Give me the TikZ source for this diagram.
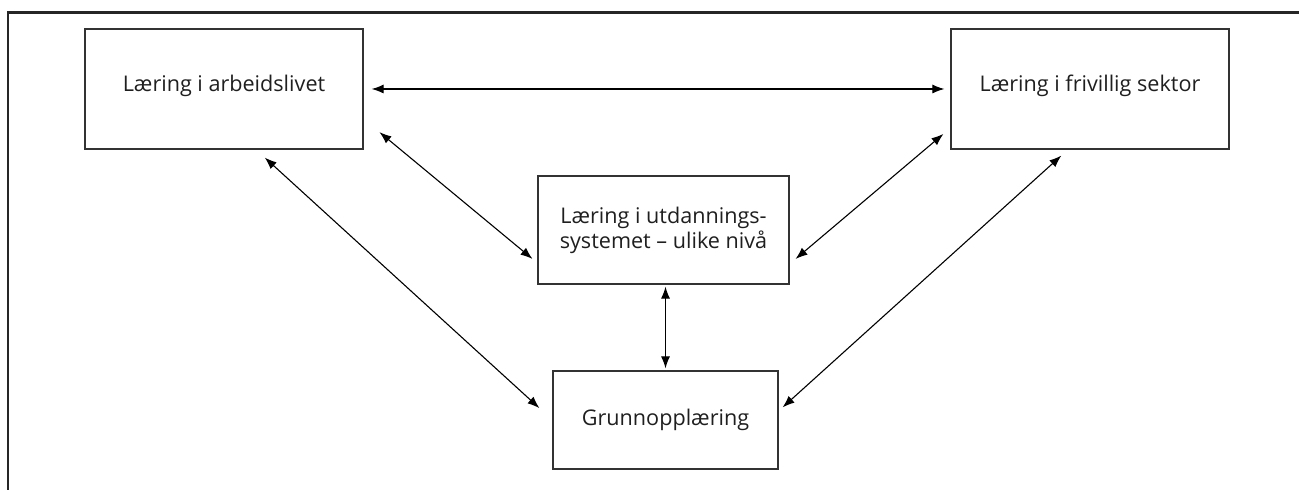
\documentclass[tikz,border=0pt]{standalone}
\usepackage{fontspec}
\setmainfont{Open Sans}
\usetikzlibrary{arrows.meta,positioning}
\tikzset{
	sector/.style = {draw = black!80, line width = 0.6pt, align = center, inner sep = 0mm,
		text = black!88, font = \fontsize{10.8}{10}\selectfont},
	top sector/.style = {sector, minimum width = 139pt, minimum height = 60pt, text depth = 6pt},
	both ways/.style = {{Latex[length=6pt,width=4.5pt]}-{Latex[length=6pt,width=4.5pt]}, line width = 0.55pt},
	frame/.style = {draw = black!85, line width = 1.25pt}
}

\begin{document}
\begin{tikzpicture}[x = 0.5pt, y = -0.5pt]
	\useasboundingbox (0, 0) rectangle (1299, 490);
	% outer frame, runs off the page
	\draw [frame] (8, 520) -- (8, 12.5) -- (1330, 12.5);

	% the four arenas
	\node [top sector] (arbeid) at (224, 89) {Læring i arbeidslivet};
	\node [top sector] (frivillig) at (1090, 89) {Læring i frivillig sektor};
	\node [sector, minimum width = 125.5pt, minimum height = 54pt] (utd) at (663.5, 230) {Læring i utdannings-\\systemet – ulike nivå};
	\node [sector, minimum width = 112.5pt, minimum height = 49pt] (grunn) at (665.5, 420) {Grunnopplæring};

	% links
	\draw [both ways, shorten <= 4pt, shorten >= 3pt] (arbeid.east) -- (frivillig.west);
	\draw [both ways, shorten <= 10.3pt, shorten >= 3.2pt]
		([shift={(0, 30)}]arbeid.east) -- ([shift={(0, 33)}]utd.west);
	\draw [both ways, shorten <= 4.6pt, shorten >= 3.9pt]
		([shift={(0, 39)}]frivillig.west) -- ([shift={(0, 34)}]utd.east);
	\draw [both ways, shorten <= 5.9pt, shorten >= 8.8pt]
		([shift={(32, 0)}]arbeid.south) -- (grunn.west);
	\draw [both ways, shorten <= 4.5pt, shorten >= 2.7pt]
		([shift={(-22, 0)}]frivillig.south) -- ([shift={(0, -9)}]grunn.east);
	\draw [both ways, shorten <= 1pt, shorten >= 1pt] (grunn.north |- utd.south) -- (grunn.north);
\end{tikzpicture}
\end{document}
